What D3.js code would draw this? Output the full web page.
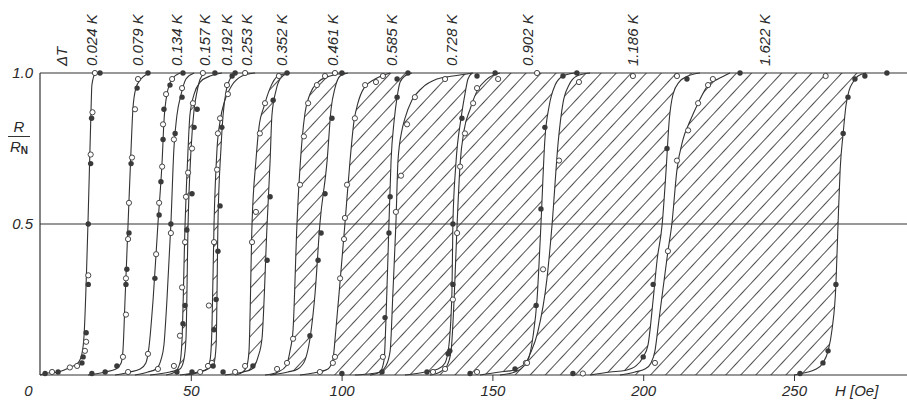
<!DOCTYPE html>
<html>
<head>
<meta charset="utf-8">
<script src="https://cdn.jsdelivr.net/npm/d3@7"></script>
<style>
  body { margin: 0; background: #fff; }
  text { font-family: "Liberation Sans", Arial, sans-serif; font-style: italic; fill: #2a2a2a; }
</style>
</head>
<body>
<div id="chart"></div>
<script>
// labels above the transitions
var dtLabels = ["\u0394T", "0.024 K", "0.079 K", "0.134 K", "0.157 K", "0.192 K", "0.253 K",
                "0.352 K", "0.461 K", "0.585 K", "0.728 K", "0.902 K", "1.186 K", "1.622 K"];
var labelH = [7.3, 17.2, 32.5, 45.4, 54.7, 62.0, 68.6, 80.2, 97.1, 116.7, 136.6, 161.8, 196.6, 240.4];

var xTicks = [0, 50, 100, 150, 200, 250];
var yTicks = [0.5, 1.0];

// single transitions  [H (Oe), R/RN]
var c024 = [[0,0],[1.7,0.005],[6,0.01],[9.9,0.025],[12.6,0.04],[13.9,0.07],[14.6,0.13],[15.9,0.5],[16.9,0.87],[17.2,0.96],[18.2,0.995],[19.9,1]];
var c079 = [[15.9,0],[21.6,0.01],[25.2,0.02],[26.9,0.04],[27.5,0.08],[28.2,0.25],[29.2,0.5],[30.2,0.75],[30.8,0.88],[31.8,0.95],[33.5,0.98],[36.5,1]];
var c134 = [[24.9,0],[29.8,0.01],[33.2,0.02],[35.1,0.04],[36.1,0.09],[37.5,0.25],[39.1,0.5],[40.5,0.71],[41.1,0.84],[42.1,0.93],[43.8,0.98],[46.4,1]];
var c157 = [[31.5,0],[35.8,0.01],[38.5,0.02],[40.1,0.05],[41.1,0.1],[42.1,0.25],[43.4,0.5],[44.4,0.75],[45.4,0.86],[46.8,0.93],[48.4,0.98],[51.1,1]];

// hysteresis pairs: a = lower field branch, b = upper field branch
var c192a = [[41.8,0],[44.8,0.01],[46.4,0.04],[47.1,0.12],[48.1,0.5],[49.1,0.75],[49.7,0.86],[51.1,0.93],[53.1,0.97],[56.4,0.99],[60.3,1]];
var c192b = [[36.5,0],[43.1,0.01],[46.4,0.02],[47.7,0.05],[48.4,0.12],[49.1,0.5],[50.1,0.75],[51.1,0.88],[52.1,0.94],[53.1,0.98],[54.7,1]];
var c253a = [[48.1,0],[53.1,0.01],[55.4,0.02],[56.4,0.05],[57.0,0.15],[57.7,0.5],[58.7,0.75],[59.7,0.84],[61.3,0.91],[63.7,0.96],[67.0,0.99],[71.3,1]];
var c253b = [[46.4,0],[52.4,0.01],[55.7,0.02],[57.7,0.04],[58.4,0.1],[59.0,0.5],[60.0,0.75],[60.7,0.86],[61.7,0.94],[63.0,0.98],[65.0,1]];
var c352a = [[64.7,0],[67.3,0.01],[68.6,0.03],[69.3,0.08],[70.3,0.5],[71.6,0.71],[72.6,0.82],[74.3,0.89],[76.3,0.95],[78.9,0.99],[82.9,1]];
var c352b = [[61.3,0],[67.3,0.01],[70.3,0.02],[72.3,0.06],[73.6,0.12],[75.3,0.5],[76.3,0.71],[76.9,0.86],[78.2,0.94],[79.6,0.98],[82.2,1]];
var c461a = [[74.6,0],[78.9,0.01],[81.6,0.03],[82.9,0.08],[83.9,0.15],[85.2,0.5],[86.9,0.78],[87.9,0.87],[89.5,0.93],[92.2,0.97],[96.2,0.99],[101.1,1]];
var c461b = [[76.3,0],[82.2,0.01],[85.5,0.02],[87.9,0.05],[89.5,0.12],[91.2,0.27],[92.8,0.5],[95.2,0.71],[96.5,0.88],[97.8,0.95],[99.5,0.99],[102.1,1]];
var c585a = [[86.2,0],[92.2,0.01],[95.5,0.02],[97.1,0.05],[98.1,0.15],[99.5,0.31],[101.1,0.5],[102.8,0.71],[104.1,0.84],[105.4,0.9],[107.4,0.95],[111.1,0.98],[116.1,1]];
var c585b = [[104.4,0],[110.1,0.005],[112.7,0.01],[114.1,0.05],[114.7,0.18],[115.7,0.5],[116.4,0.71],[117.4,0.84],[118.4,0.92],[119.4,0.97],[121.0,0.99],[123.3,1]];
var c728a = [[109.4,0],[112.7,0.01],[114.7,0.03],[116.1,0.08],[117.0,0.27],[118.0,0.5],[118.7,0.71],[120.0,0.81],[121.0,0.85],[123.3,0.91],[126.6,0.95],[131.6,0.98],[136.9,0.99],[143.6,1]];
var c728b = [[121.0,0],[127.7,0.01],[132.0,0.02],[134.3,0.04],[135.6,0.1],[136.6,0.28],[136.9,0.5],[137.9,0.7],[139.6,0.85],[140.9,0.93],[141.9,0.98],[143.3,1]];
var c902a = [[129.3,0],[132.6,0.01],[134.9,0.03],[136.3,0.08],[137.3,0.25],[138.3,0.5],[139.3,0.7],[140.6,0.81],[142.6,0.88],[144.9,0.94],[148.2,0.98],[152.5,1]];
var c902b = [[145.9,0],[152.5,0.01],[156.5,0.015],[159.8,0.03],[161.8,0.05],[163.5,0.13],[164.8,0.25],[166.1,0.5],[167.4,0.78],[168.8,0.89],[170.8,0.96],[173.4,0.99],[177.4,1]];
var c1186a = [[152.5,0],[157.5,0.01],[160.5,0.03],[162.5,0.07],[165.0,0.14],[168.1,0.32],[169.8,0.5],[171.8,0.77],[173.4,0.9],[175.4,0.96],[178.0,0.99],[182.4,1]];
var c1186b = [[182.4,0],[189.0,0.01],[194.0,0.015],[197.6,0.03],[200.0,0.06],[201.6,0.1],[203.3,0.25],[204.6,0.38],[206.3,0.5],[207.6,0.68],[208.6,0.84],[209.9,0.93],[211.9,0.97],[214.9,0.99],[218.8,1]];
var c1622a = [[192.3,0],[197.3,0.01],[200.6,0.02],[202.6,0.04],[203.9,0.08],[205.2,0.18],[208.2,0.41],[209.5,0.5],[211.2,0.68],[213.2,0.78],[215.5,0.84],[218.2,0.9],[221.5,0.96],[224.8,0.98],[228.8,1]];
var c1622b = [[250.0,0],[254.0,0.008],[257.0,0.018],[259.6,0.04],[261.3,0.08],[262.6,0.15],[263.9,0.3],[264.6,0.5],[265.3,0.68],[266.3,0.8],[267.2,0.89],[268.2,0.94],[269.6,0.97],[271.2,0.99],[273.9,1]];

var singles = [c024, c079, c134, c157];
var pairs = [[c192a, c192b], [c253a, c253b], [c352a, c352b], [c461a, c461b], [c585a, c585b],
             [c728a, c728b], [c902a, c902b], [c1186a, c1186b], [c1622a, c1622b]];

// measured points, open circles
var openPts = [
  [17.4,0.87],[16.8,0.73],[16.0,0.33],[15.3,0.11],[14.9,0.08],[12.3,0.03],[9.9,0.025],[4.0,0.01],[18.2,1],
  [32.5,0.98],[31.5,0.88],[30.5,0.72],[29.5,0.57],[29.2,0.45],[28.5,0.32],[28.5,0.2],[27.5,0.06],
  [43.8,0.98],[41.8,0.93],[40.8,0.83],[40.5,0.69],[39.5,0.57],[38.5,0.4],[35.8,0.07],[29.2,0.01],
  [47.1,0.95],[44.4,0.78],[43.4,0.47],[39.1,0.02],
  [50.7,0.9],[50.4,0.75],[49.1,0.67],[48.4,0.59],[48.1,0.44],[47.1,0.29],[46.4,0.13],[44.4,0.03],[54.0,1],
  [59.7,0.85],[59.0,0.8],[58.7,0.68],[57.7,0.44],[56.0,0.23],[57.0,0.04],[62.3,0.93],[62.0,0.96],[68.0,1],[55.7,0.03],[53.1,0.01],
  [74.6,0.9],[72.9,0.8],[71.6,0.54],[70.3,0.44],[68.0,0.03],[79.2,0.99],[64.7,0.01],
  [88.9,0.9],[87.5,0.79],[86.2,0.63],[83.9,0.12],[81.9,0.04],[78.6,0.02],[91.8,0.96],[94.5,0.99],[97.8,1],
  [107.8,0.96],[104.4,0.85],[101.8,0.63],[101.1,0.52],[100.8,0.45],[99.5,0.32],[97.8,0.06],[97.1,0.04],[92.8,0.01],[111.4,0.97],[113.7,0.99],
  [118.0,0.54],[119.7,0.66],[121.7,0.83],[124.3,0.92],[134.3,0.98],[113.7,0.06],[130.3,0.01],
  [140.9,0.8],[143.6,0.9],[144.9,0.95],[139.3,0.69],[138.3,0.47],[136.9,0.25],[134.3,0.02],[151.9,0.98],[164.8,1],[144.9,0.01],[161.1,0.04],
  [172.1,0.71],[178.7,0.97],[166.8,0.35],[196.6,0.99],[161.5,0.04],[180.0,0.005],[211.2,0.99],
  [211.2,0.71],[214.9,0.81],[218.2,0.9],[221.5,0.96],[223.1,0.98],[208.2,0.41],[203.9,0.04],[260.5,0.99]
];

// measured points, filled circles
var filledPts = [
  [17.1,0.85],[16.8,0.7],[16.0,0.5],[16.0,0.3],[15.3,0.14],[14.3,0.06],[13.9,0.04],[6.0,0.01],[1.7,0.005],[19.9,1],
  [35.8,1],[32.2,0.95],[30.2,0.7],[29.5,0.47],[28.8,0.35],[28.5,0.3],[25.5,0.03],[21.6,0.01],[17.2,0.005],
  [47.4,1],[43.1,0.96],[41.1,0.88],[40.8,0.78],[40.1,0.64],[39.5,0.53],[38.1,0.32],
  [47.1,0.92],[44.8,0.8],[43.4,0.5],
  [52.1,0.88],[51.1,0.82],[50.4,0.6],[48.7,0.48],[48.1,0.23],[47.4,0.17],[45.4,0.01],[58.0,1],
  [60.3,0.82],[59.7,0.56],[59.0,0.41],[58.4,0.25],[57.7,0.15],[57.4,0.03],[64.7,1],[63.7,0.99],[50.4,0.01],
  [77.3,0.91],[76.3,0.59],[75.3,0.38],[70.6,0.03],[81.9,1],[60.7,0.01],
  [96.8,0.85],[94.5,0.6],[93.2,0.47],[92.2,0.38],[89.5,0.13],[100.1,1],
  [116.1,0.59],[115.7,0.47],[114.4,0.19],[118.4,0.92],[118.4,0.98],[122.0,1],[113.4,0.01],[100.1,0.005],
  [136.9,0.5],[136.9,0.3],[135.3,0.07],[139.9,0.85],[144.9,0.99],[128.3,0.01],
  [167.4,0.82],[166.1,0.55],[164.5,0.23],[173.4,0.99],[150.9,1],[142.6,0.005],[157.5,0.02],[135.9,0.08],
  [207.9,0.75],[203.3,0.3],[200.0,0.06],[214.5,0.98],[178.0,1],[176.7,0.005],
  [232.1,1],[252.0,0.005],[259.6,0.04],[261.3,0.08],[263.9,0.3],[266.3,0.8],[267.9,0.92],[270.2,0.98],[273.5,0.99],[280.8,1]
];

var W = 907, H = 404;
var ink = "#333";

var svg = d3.select("#chart").append("svg")
  .attr("width", W)
  .attr("height", H);

var x = d3.scaleLinear().domain([0, 250]).range([40, 794]);
var y = d3.scaleLinear().domain([0, 1]).range([375, 73]);

var line = d3.line()
  .x(function(d) { return x(d[0]); })
  .y(function(d) { return y(d[1]); })
  .curve(d3.curveMonotoneX);

var defs = svg.append("defs");
var pat = defs.append("pattern")
  .attr("id", "hatch")
  .attr("patternUnits", "userSpaceOnUse")
  .attr("width", 11).attr("height", 11)
  .attr("patternTransform", "rotate(43)");
pat.append("line")
  .attr("x1", 5.5).attr("y1", 0).attr("x2", 5.5).attr("y2", 11)
  .attr("stroke", "#3c3c3c").attr("stroke-width", 0.9);

// hatched area between the two branches of every pair
pairs.forEach(function(p, i) {
  var rightOfA = line(p[0]) + "L" + W + "," + y(1) + "L" + W + "," + y(0) + "Z";
  var leftOfB = line(p[1]) + "L" + x(0) + "," + y(1) + "L" + x(0) + "," + y(0) + "Z";
  defs.append("clipPath").attr("id", "clipA" + i)
    .append("path").attr("d", rightOfA);
  svg.append("g")
    .attr("clip-path", "url(#clipA" + i + ")")
    .append("path")
    .attr("d", leftOfB)
    .attr("fill", "url(#hatch)");
});

// frame: horizontal lines at 0, 0.5, 1 and the left axis
svg.selectAll(".hline")
  .data([0, 0.5, 1])
  .enter().append("line")
  .attr("x1", x(0)).attr("x2", W)
  .attr("y1", function(d) { return y(d); })
  .attr("y2", function(d) { return y(d); })
  .attr("stroke", ink).attr("stroke-width", 1.2);

svg.append("line")
  .attr("x1", x(0)).attr("x2", x(0))
  .attr("y1", y(0)).attr("y2", y(1))
  .attr("stroke", ink).attr("stroke-width", 1.2);

// axes (ticks and labels only)
var xAxis = svg.append("g")
  .attr("transform", "translate(0," + y(0) + ")")
  .call(d3.axisBottom(x).tickValues(xTicks).tickSize(6).tickPadding(4).tickFormat(d3.format("d")));
xAxis.select(".domain").remove();
xAxis.selectAll("line").attr("stroke", ink);
xAxis.selectAll("text").style("font-size", "15px").attr("fill", "#2a2a2a");
xAxis.selectAll(".tick").filter(function(d) { return d === 0; })
  .each(function() {
    d3.select(this).select("line").remove();
    d3.select(this).select("text").attr("dx", -12);
  });

var yAxis = svg.append("g")
  .attr("transform", "translate(" + x(0) + ",0)")
  .call(d3.axisLeft(y).tickValues(yTicks).tickSize(0).tickPadding(7).tickFormat(d3.format(".1f")));
yAxis.select(".domain").remove();
yAxis.selectAll("text").style("font-size", "15px").attr("fill", "#2a2a2a");

svg.append("text")
  .attr("x", 835).attr("y", 396)
  .style("font-size", "15px")
  .text("H [Oe]");

// R / RN
svg.append("text").attr("x", 19).attr("y", 132)
  .attr("text-anchor", "middle").style("font-size", "15px").text("R");
svg.append("line").attr("x1", 8).attr("x2", 30).attr("y1", 136.5).attr("y2", 136.5)
  .attr("stroke", ink).attr("stroke-width", 1);
var rn = svg.append("text").attr("x", 10).attr("y", 152).style("font-size", "15px");
rn.append("tspan").text("R");
rn.append("tspan").attr("dy", 2).style("font-size", "10px").style("font-style", "normal")
  .style("font-weight", "bold").text("N");

// curves
svg.selectAll(".single")
  .data(singles)
  .enter().append("path")
  .attr("d", line)
  .attr("fill", "none").attr("stroke", ink).attr("stroke-width", 1.1);

svg.selectAll(".branch")
  .data(d3.merge(pairs))
  .enter().append("path")
  .attr("d", line)
  .attr("fill", "none").attr("stroke", ink).attr("stroke-width", 1.1);

// points
svg.selectAll(".open")
  .data(openPts)
  .enter().append("circle")
  .attr("cx", function(d) { return x(d[0]); })
  .attr("cy", function(d) { return y(d[1]); })
  .attr("r", 2.6)
  .attr("fill", "#fff").attr("stroke", ink).attr("stroke-width", 0.9);

svg.selectAll(".full")
  .data(filledPts)
  .enter().append("circle")
  .attr("cx", function(d) { return x(d[0]); })
  .attr("cy", function(d) { return y(d[1]); })
  .attr("r", 2.7)
  .attr("fill", "#3a3a3a");

// ΔT labels, written upwards
svg.selectAll(".dt")
  .data(dtLabels)
  .enter().append("text")
  .attr("transform", function(d, i) { return "translate(" + x(labelH[i]) + ",66) rotate(-90)"; })
  .attr("dy", "0.35em")
  .style("font-size", "15px")
  .text(function(d) { return d; });
</script>
</body>
</html>
